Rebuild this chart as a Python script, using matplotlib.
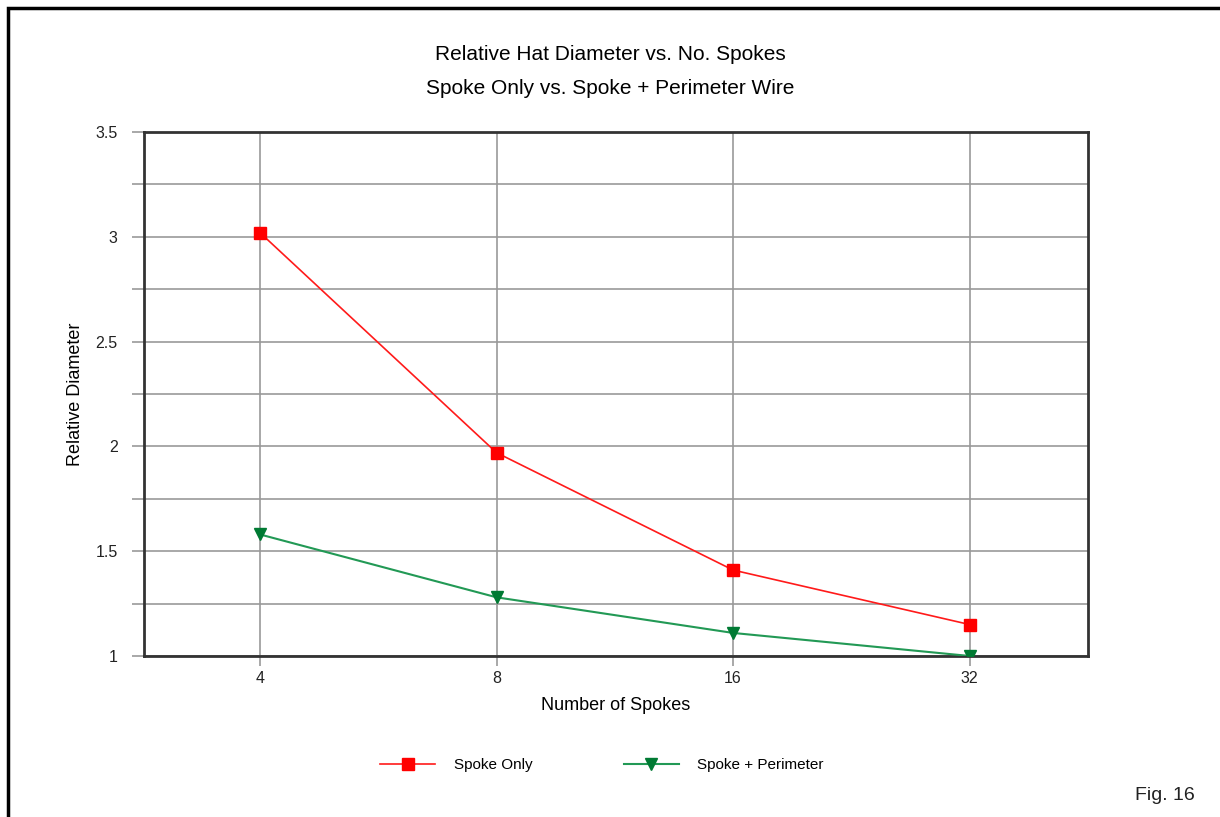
import matplotlib.pyplot as plt
from matplotlib.patches import Rectangle

plt.rcParams['font.family'] = ['Liberation Sans', 'DejaVu Sans']

spokes = ['4', '8', '16', '32']
spoke_only = [3.02, 1.97, 1.41, 1.15]
spoke_perimeter = [1.58, 1.28, 1.11, 1.00]

fig = plt.figure(figsize=(12.2, 8.17), dpi=100)
ax = fig.add_axes([144/1220, 1 - 656/817, (1088-144)/1220, (656-132)/817])

xs = range(len(spokes))
ax.plot(xs, spoke_only, color='#ff1a1a', linewidth=1.2, marker='s', markersize=9,
        markerfacecolor='#ff0000', markeredgecolor='#ff0000', label='Spoke Only', zorder=3)
ax.plot(xs, spoke_perimeter, color='#229955', linewidth=1.5, marker='v', markersize=9,
        markerfacecolor='#007a33', markeredgecolor='#007a33', label='Spoke + Perimeter', zorder=3)

ax.set_xlim(-0.49, 3.5)
ax.set_ylim(1, 3.5)
ax.set_xticks(list(xs))
ax.set_xticklabels(spokes)
ax.set_yticks([1, 1.5, 2, 2.5, 3, 3.5])
ax.set_yticklabels(['1', '1.5', '2', '2.5', '3', '3.5'])
ax.set_yticks([1.25, 1.75, 2.25, 2.75, 3.25], minor=True)
ax.grid(True, which='both', color='#999999', linewidth=1.2, zorder=1)
ax.tick_params(axis='both', which='both', direction='out', color='#999999', width=1.2,
               labelsize=11.5, colors='#222222')
ax.tick_params(axis='y', which='both', length=9, pad=10)
ax.tick_params(axis='x', length=7, pad=4)
ax.tick_params(axis='x', which='minor', length=0)
for s in ax.spines.values():
    s.set_color('#333333')
    s.set_linewidth(2)

ax.set_xlabel('Number of Spokes', fontsize=13, labelpad=8)
ax.set_ylabel('Relative Diameter', fontsize=13, labelpad=8)

fig.text(0.5, 1 - 55/817, 'Relative Hat Diameter vs. No. Spokes', ha='center', va='center', fontsize=15)
fig.text(0.5, 1 - 88/817, 'Spoke Only vs. Spoke + Perimeter Wire', ha='center', va='center', fontsize=15)

fig.legend(loc='center', bbox_to_anchor=(602/1220, 1 - 765/817), ncol=2, frameon=False,
           fontsize=11, handlelength=3.6, columnspacing=6, handletextpad=1.2)

fig.text(1195/1220, 1 - 795/817, 'Fig. 16', ha='right', va='center', fontsize=14, color='#222222')

fig.patches.append(Rectangle((8/1220, -0.05), 1.1, 1.05 - 8/817, transform=fig.transFigure,
                             fill=False, edgecolor='black', linewidth=2.5))

fig.savefig('out.png', dpi=100)
